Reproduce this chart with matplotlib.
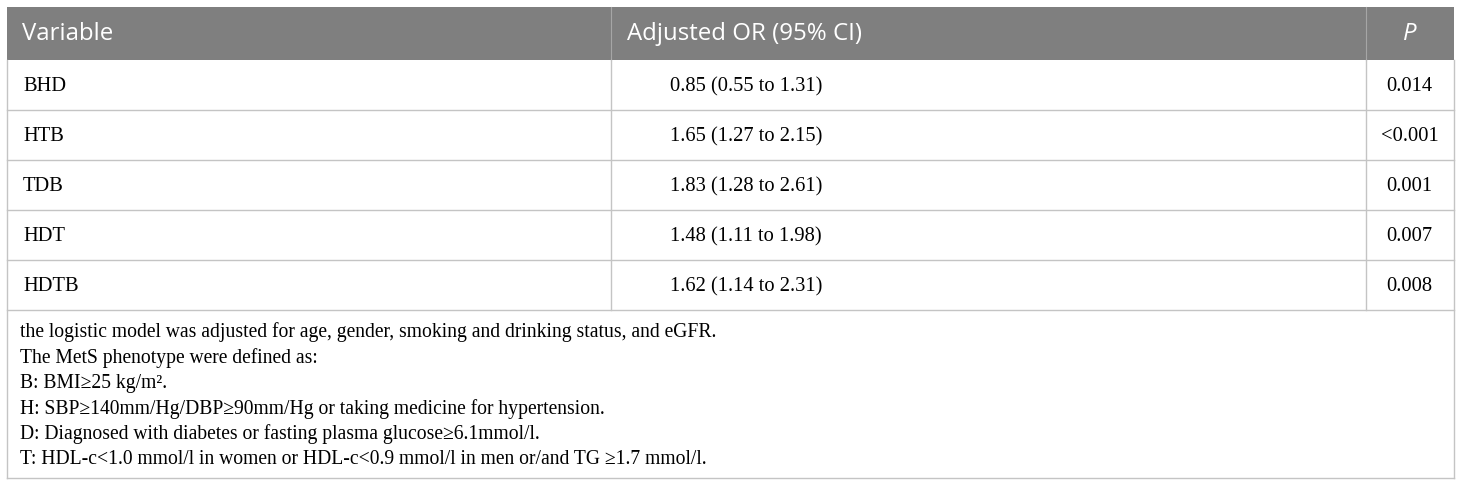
import matplotlib
matplotlib.use('Agg')
import matplotlib.pyplot as plt
from matplotlib.patches import Rectangle

# table content
headers = ['Variable', 'Adjusted OR (95% CI)', 'P']
variables = ['BHD', 'HTB', 'TDB', 'HDT', 'HDTB']
adjusted_or = ['0.85 (0.55 to 1.31)', '1.65 (1.27 to 2.15)', '1.83 (1.28 to 2.61)',
               '1.48 (1.11 to 1.98)', '1.62 (1.14 to 2.31)']
p_values = ['0.014', '<0.001', '0.001', '0.007', '0.008']
footnotes = [
    'the logistic model was adjusted for age, gender, smoking and drinking status, and eGFR.',
    'The MetS phenotype were defined as:',
    'B: BMI\u226525 kg/m\u00b2.',
    'H: SBP\u2265140mm/Hg/DBP\u226590mm/Hg or taking medicine for hypertension.',
    'D: Diagnosed with diabetes or fasting plasma glucose\u22656.1mmol/l.',
    'T: HDL-c<1.0 mmol/l in women or HDL-c<0.9 mmol/l in men or/and TG \u22651.7 mmol/l.',
]

W, H = 1460, 488
fig = plt.figure(figsize=(W / 100, H / 100), dpi=100)
ax = fig.add_axes([0, 0, 1, 1])
ax.set_xlim(0, W)
ax.set_ylim(H, 0)
ax.axis('off')

# layout (pixels)
left, right = 6.5, 1453.5
col1, col2 = 611, 1366
top, head_bot = 7, 60
row_h = 50
foot_bot = 478
line_col = '#c4c4c4'
head_col = '#7f7f7f'
serif = ['Liberation Serif', 'DejaVu Serif']
sans = ['Open Sans', 'DejaVu Sans']
fs_body = 14.8
fs_head = 17.3
fs_foot = 14.1

# header band
ax.add_patch(Rectangle((left, top), right - left, head_bot - top, facecolor=head_col,
                       edgecolor='none'))
ax.plot([col1, col1], [top, head_bot], color='#a6a6a6', lw=0.8)
ax.plot([col2, col2], [top, head_bot], color='#a6a6a6', lw=0.8)
hy = (top + head_bot) / 2 + 1
ax.text(22, hy, headers[0], color='white', fontsize=fs_head, family=sans, va='center')
ax.text(627, hy, headers[1], color='white', fontsize=fs_head, family=sans, va='center')
ax.text((col2 + right) / 2, hy, headers[2], color='white', fontsize=fs_head, family=sans,
        style='italic', va='center', ha='center')

# body rows
n = len(variables)
body_bot = head_bot + n * row_h
for i in range(n):
    yc = head_bot + (i + 0.5) * row_h + 1.5
    ax.text(23, yc, variables[i], fontsize=fs_body, family=serif, va='center')
    ax.text(670, yc, adjusted_or[i], fontsize=fs_body, family=serif, va='center')
    ax.text((col2 + right) / 2, yc, p_values[i], fontsize=fs_body, family=serif,
            va='center', ha='center')
    yb = head_bot + (i + 1) * row_h
    ax.plot([left, right], [yb, yb], color=line_col, lw=1)

# grid lines of body
ax.plot([left, left], [head_bot, foot_bot], color=line_col, lw=1)
ax.plot([right, right], [head_bot, foot_bot], color=line_col, lw=1)
ax.plot([col1, col1], [head_bot, body_bot], color=line_col, lw=1)
ax.plot([col2, col2], [head_bot, body_bot], color=line_col, lw=1)
ax.plot([left, right], [foot_bot, foot_bot], color=line_col, lw=1)

# footnotes
for k, line in enumerate(footnotes):
    ax.text(20, 332 + k * 25.6, line, fontsize=fs_foot, family=serif, va='center')

fig.savefig('out.png', dpi=100)
